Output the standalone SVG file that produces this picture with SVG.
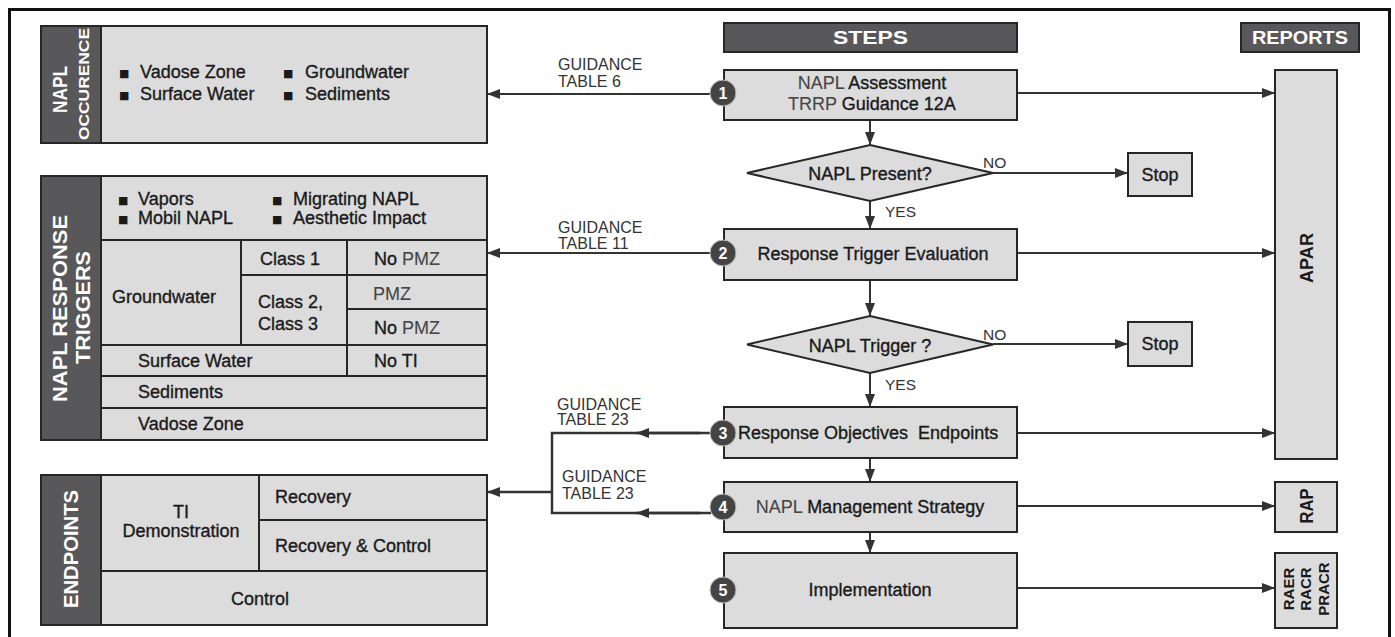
<svg xmlns="http://www.w3.org/2000/svg" width="1395" height="637" viewBox="0 0 1395 637">
<style>
.box{fill:#dcdcdc;stroke:#262626;stroke-width:2}
.side{fill:#58585a;stroke:#262626;stroke-width:2}
.div{stroke:#262626;stroke-width:2;fill:none}
.t{font-family:"Liberation Sans",Arial,sans-serif;font-size:18px;fill:#1a1a1a;stroke:#1a1a1a;stroke-width:0.35}
.lt{fill:#454545;stroke:#454545;stroke-width:0.1}
.w{font-family:"Liberation Sans",Arial,sans-serif;font-weight:bold;fill:#ffffff}
.r{font-family:"Liberation Sans",Arial,sans-serif;font-weight:bold;fill:#1a1a1a}
.g{font-family:"Liberation Sans",Arial,sans-serif;font-size:16px;fill:#333333}
.sm{font-family:"Liberation Sans",Arial,sans-serif;font-size:15.5px;fill:#333333}
.bul{font-family:"DejaVu Sans",sans-serif;font-size:11px;fill:#1a1a1a}
.ln{stroke:#333333;stroke-width:2;fill:none}
.lnt{stroke:#333333;stroke-width:2.5;fill:none}
.num{fill:#444444;stroke:#bdbdbd;stroke-width:1}
</style>
<defs>
<marker id="ah" markerUnits="userSpaceOnUse" markerWidth="13" markerHeight="10" refX="13" refY="5" orient="auto">
<path d="M0,0 L13,5 L0,10 z" fill="#333333"/>
</marker>
</defs>
<rect x="9.5" y="9.5" width="1380" height="640" fill="#ffffff" stroke="#111111" stroke-width="3"/>

<g id="connectors">
<path class="ln" d="M711,94 H487" marker-end="url(#ah)"/>
<path class="ln" d="M1017,93 H1275" marker-end="url(#ah)"/>
<path class="ln" d="M870,120 V145" marker-end="url(#ah)"/>
<path class="ln" d="M993,173 H1128" marker-end="url(#ah)"/>
<path class="ln" d="M870,201 V229" marker-end="url(#ah)"/>
<path class="ln" d="M711,253 H487" marker-end="url(#ah)"/>
<path class="ln" d="M1017,253 H1275" marker-end="url(#ah)"/>
<path class="ln" d="M870,280 V316" marker-end="url(#ah)"/>
<path class="ln" d="M993,344 H1128" marker-end="url(#ah)"/>
<path class="ln" d="M870,373 V407" marker-end="url(#ah)"/>
<path class="lnt" d="M711,433 H552 V513 H711"/>
<path class="lnt" d="M700,433 H636" marker-end="url(#ah)"/>
<path class="lnt" d="M700,513 H636" marker-end="url(#ah)"/>
<path class="lnt" d="M552,492 H487" marker-end="url(#ah)"/>
<path class="ln" d="M1017,433 H1275" marker-end="url(#ah)"/>
<path class="ln" d="M870,458 V482" marker-end="url(#ah)"/>
<path class="ln" d="M1017,506 H1275" marker-end="url(#ah)"/>
<path class="ln" d="M870,532 V553" marker-end="url(#ah)"/>
<path class="ln" d="M1017,588 H1275" marker-end="url(#ah)"/>
<text class="g" x="558" y="70">GUIDANCE</text>
<text class="g" x="558" y="87">TABLE 6</text>
<text class="g" x="558" y="233">GUIDANCE</text>
<text class="g" x="558" y="249">TABLE 11</text>
<text class="g" x="557" y="410">GUIDANCE</text>
<text class="g" x="557" y="425">TABLE 23</text>
<text class="g" x="562" y="482">GUIDANCE</text>
<text class="g" x="562" y="499">TABLE 23</text>
<text class="sm" x="983" y="168">NO</text>
<text class="sm" x="885" y="217">YES</text>
<text class="sm" x="983" y="340">NO</text>
<text class="sm" x="885" y="390">YES</text>
</g>

<g id="napl-occurrence">
<rect class="box" x="41" y="26" width="446" height="117"/>
<rect class="side" x="41" y="26" width="60" height="117"/>
<text class="w" font-size="20" transform="translate(67,89.5) rotate(-90)" text-anchor="middle" textLength="47" lengthAdjust="spacingAndGlyphs">NAPL</text>
<text class="w" font-size="15" transform="translate(88.5,84) rotate(-90)" text-anchor="middle" textLength="112" lengthAdjust="spacingAndGlyphs">OCCURENCE</text>
<text class="bul" x="119" y="77">■</text><text class="t" x="140" y="78">Vadose Zone</text>
<text class="bul" x="119" y="99">■</text><text class="t" x="140" y="100">Surface Water</text>
<text class="bul" x="283" y="77">■</text><text class="t" x="305" y="78">Groundwater</text>
<text class="bul" x="283" y="99">■</text><text class="t" x="305" y="100">Sediments</text>
</g>

<g id="napl-response-triggers">
<rect class="box" x="41" y="176" width="446" height="264"/>
<rect class="side" x="41" y="176" width="60" height="264"/>
<text class="w" font-size="20" transform="translate(66.7,308.5) rotate(-90)" text-anchor="middle" textLength="187" lengthAdjust="spacingAndGlyphs">NAPL RESPONSE</text>
<text class="w" font-size="20" transform="translate(89.7,307.5) rotate(-90)" text-anchor="middle" textLength="113" lengthAdjust="spacingAndGlyphs">TRIGGERS</text>
<path class="div" d="M101,240 H487 M241,275 H487 M347,309 H487 M101,345 H487 M101,376 H487 M101,408 H487 M241,240 V345 M347,240 V376"/>
<text class="bul" x="118" y="204">■</text><text class="t" x="138" y="205">Vapors</text>
<text class="bul" x="118" y="223">■</text><text class="t" x="138" y="224">Mobil NAPL</text>
<text class="bul" x="272" y="204">■</text><text class="t" x="293" y="205">Migrating NAPL</text>
<text class="bul" x="272" y="223">■</text><text class="t" x="293" y="224">Aesthetic Impact</text>
<text class="t" x="112" y="303">Groundwater</text>
<text class="t" x="260" y="265">Class 1</text>
<text class="t" x="258" y="308">Class 2,</text>
<text class="t" x="258" y="330">Class 3</text>
<text class="t" x="374" y="265">No <tspan class="lt">PMZ</tspan></text>
<text class="t lt" x="373" y="300">PMZ</text>
<text class="t" x="374" y="334">No <tspan class="lt">PMZ</tspan></text>
<text class="t" x="138" y="367">Surface Water</text>
<text class="t" x="374" y="367">No TI</text>
<text class="t" x="138" y="398">Sediments</text>
<text class="t" x="138" y="430">Vadose Zone</text>
</g>

<g id="endpoints">
<rect class="box" x="41" y="475" width="446" height="150"/>
<rect class="side" x="41" y="475" width="60" height="150"/>
<text class="w" font-size="20" transform="translate(77.7,549) rotate(-90)" text-anchor="middle" textLength="118" lengthAdjust="spacingAndGlyphs">ENDPOINTS</text>
<path class="div" d="M259,475 V571 M259,520 H487 M101,571 H487"/>
<text class="t" x="181" y="518" text-anchor="middle">TI</text>
<text class="t" x="181" y="537" text-anchor="middle">Demonstration</text>
<text class="t" x="275" y="503">Recovery</text>
<text class="t" x="275" y="552">Recovery &amp; Control</text>
<text class="t" x="260" y="605" text-anchor="middle">Control</text>
</g>

<g id="steps-header">
<rect class="side" x="724" y="23" width="293" height="29"/>
<text class="w" font-size="19" x="870.5" y="44" text-anchor="middle" textLength="75" lengthAdjust="spacingAndGlyphs">STEPS</text>
</g>
<g id="reports-header">
<rect class="side" x="1241" y="23" width="118" height="29"/>
<text class="w" font-size="19" x="1300" y="44" text-anchor="middle" textLength="96" lengthAdjust="spacingAndGlyphs">REPORTS</text>
</g>

<g id="step1">
<rect class="box" x="724" y="70" width="293" height="50"/>
<text class="t" x="872" y="89" text-anchor="middle"><tspan class="lt">NAPL</tspan> Assessment</text>
<text class="t" x="872" y="110" text-anchor="middle"><tspan class="lt">TRRP</tspan> Guidance 12A</text>
<circle class="num" cx="723" cy="93" r="13"/>
<text class="w" font-size="16" x="723" y="99" text-anchor="middle">1</text>
</g>

<g id="decision1">
<polygon class="box" points="870,145 993,173 870,201 747,173"/>
<text class="t" x="870" y="180" text-anchor="middle">NAPL Present?</text>
</g>
<g id="stop1">
<rect class="box" x="1128" y="153" width="64" height="43"/>
<text class="t" x="1160" y="181" text-anchor="middle">Stop</text>
</g>

<g id="step2">
<rect class="box" x="724" y="229" width="293" height="51"/>
<text class="t" x="873" y="260" text-anchor="middle">Response Trigger Evaluation</text>
<circle class="num" cx="723" cy="253" r="13"/>
<text class="w" font-size="16" x="723" y="259" text-anchor="middle">2</text>
</g>

<g id="decision2">
<polygon class="box" points="870,316 993,344.5 870,373 747,344.5"/>
<text class="t" x="870" y="352" text-anchor="middle">NAPL Trigger ?</text>
</g>
<g id="stop2">
<rect class="box" x="1128" y="322" width="64" height="44"/>
<text class="t" x="1160" y="350" text-anchor="middle">Stop</text>
</g>

<g id="step3">
<rect class="box" x="724" y="407" width="293" height="51"/>
<text class="t" x="738" y="439">Response Objectives<tspan dx="10">Endpoints</tspan></text>
<circle class="num" cx="723" cy="433" r="13"/>
<text class="w" font-size="16" x="723" y="439" text-anchor="middle">3</text>
</g>

<g id="step4">
<rect class="box" x="724" y="482" width="293" height="50"/>
<text class="t" x="870" y="513" text-anchor="middle"><tspan class="lt">NAPL</tspan> Management Strategy</text>
<circle class="num" cx="723" cy="507" r="13"/>
<text class="w" font-size="16" x="723" y="513" text-anchor="middle">4</text>
</g>

<g id="step5">
<rect class="box" x="724" y="553" width="293" height="75"/>
<text class="t" x="870" y="596" text-anchor="middle">Implementation</text>
<circle class="num" cx="723" cy="590" r="13"/>
<text class="w" font-size="16" x="723" y="596" text-anchor="middle">5</text>
</g>

<g id="apar">
<rect class="box" x="1275" y="70" width="62" height="389"/>
<text class="r" font-size="18" transform="translate(1313,258) rotate(-90)" text-anchor="middle" textLength="50" lengthAdjust="spacingAndGlyphs">APAR</text>
</g>
<g id="rap">
<rect class="box" x="1275" y="482" width="62" height="50"/>
<text class="r" font-size="18" transform="translate(1313,506) rotate(-90)" text-anchor="middle" textLength="35" lengthAdjust="spacingAndGlyphs">RAP</text>
</g>
<g id="raer">
<rect class="box" x="1275" y="553" width="62" height="75"/>
<text class="r" font-size="15" transform="translate(1293.5,589) rotate(-90)" text-anchor="middle">RAER</text>
<text class="r" font-size="15" transform="translate(1311,589) rotate(-90)" text-anchor="middle">RACR</text>
<text class="r" font-size="15" transform="translate(1328.5,589) rotate(-90)" text-anchor="middle">PRACR</text>
</g>
</svg>
